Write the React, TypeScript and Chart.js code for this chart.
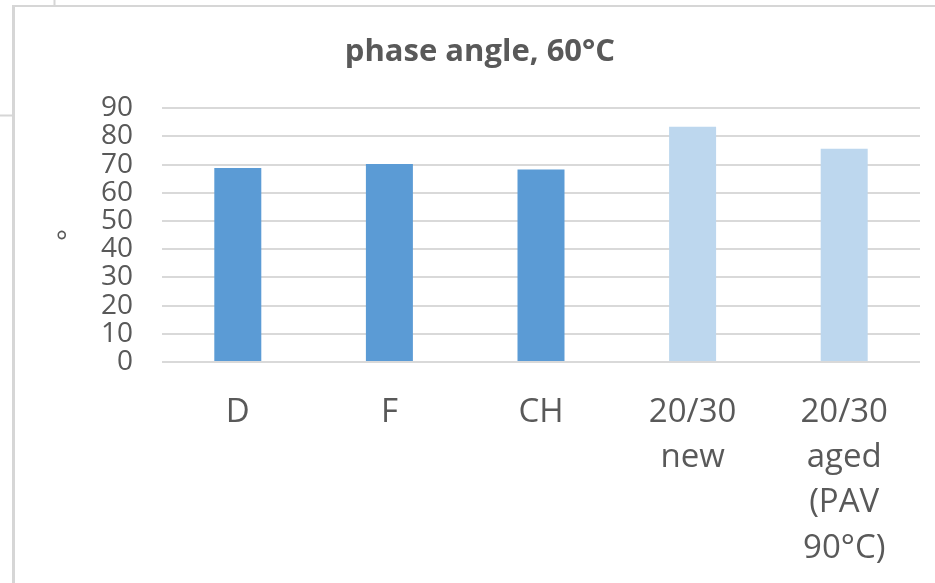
import React, { useEffect, useRef } from "react";
import { Chart, registerables } from "chart.js";

Chart.register(...registerables);

// Binder samples on the category axis (multi-line labels)
const categories: string[][] = [
  ["D"],
  ["F"],
  ["CH"],
  ["20/30", "new"],
  ["20/30", "aged", "(PAV", "90°C)"],
];

// Phase angle at 60 °C, in degrees
const phaseAngle: number[] = [68.8, 70.2, 68.3, 83.4, 75.6];

// Modified binders in a darker blue, the 20/30 reference binders in a pale blue
const barColors: string[] = ["#5B9BD5", "#5B9BD5", "#5B9BD5", "#BDD7EE", "#BDD7EE"];

const yTicks: number[] = [0, 10, 20, 30, 40, 50, 60, 70, 80, 90];

const TEXT = "#595959";
const GRID = "#D9D9D9";
const FONT = "'Open Sans', 'Noto Sans', sans-serif";

// Sheet cell borders and the chart frame behind the plot
const framePlugin = {
  id: "sheetFrame",
  beforeDraw(chart: Chart) {
    const { ctx, width, height } = chart;
    ctx.save();
    ctx.fillStyle = "#ffffff";
    ctx.fillRect(0, 0, width, height);
    ctx.strokeStyle = "#D6D6D6";
    ctx.lineWidth = 3;
    ctx.beginPath();
    ctx.moveTo(13.5, 5);
    ctx.lineTo(13.5, height);
    ctx.stroke();
    ctx.lineWidth = 2;
    ctx.beginPath();
    ctx.moveTo(12, 6);
    ctx.lineTo(width, 6);
    ctx.moveTo(54.5, 0);
    ctx.lineTo(54.5, 6);
    ctx.moveTo(0, 115.5);
    ctx.lineTo(13, 115.5);
    ctx.stroke();
    ctx.restore();
  },
};

export default function App() {
  const canvasRef = useRef<HTMLCanvasElement | null>(null);

  useEffect(() => {
    if (!canvasRef.current) return;
    const chart = new Chart(canvasRef.current, {
      type: "bar",
      data: {
        labels: categories,
        datasets: [
          {
            label: "phase angle",
            data: phaseAngle,
            backgroundColor: barColors,
            borderWidth: 0,
            categoryPercentage: 1,
            barPercentage: 0.31,
          },
        ],
      },
      options: {
        animation: false,
        responsive: false,
        maintainAspectRatio: false,
        layout: { padding: { top: 0, right: 15, bottom: 0, left: 40 } },
        plugins: {
          legend: { display: false },
          tooltip: { enabled: false },
          title: {
            display: true,
            text: "phase angle, 60°C",
            color: TEXT,
            font: { family: FONT, size: 31, weight: "bold", lineHeight: 1.2 },
            padding: { top: 34, bottom: 37 },
          },
        },
        scales: {
          x: {
            grid: { display: false, drawTicks: false },
            border: { display: false },
            ticks: {
              color: TEXT,
              font: { family: FONT, size: 33, lineHeight: 1.37 },
              padding: 28,
              maxRotation: 0,
              autoSkip: false,
            },
            afterFit(scale: any) {
              scale.height = 221;
            },
          },
          y: {
            min: 0,
            max: 90,
            afterBuildTicks(scale: any) {
              scale.ticks = yTicks.map((v) => ({ value: v }));
            },
            grid: { color: GRID, lineWidth: 2, drawTicks: false },
            border: { display: false },
            ticks: {
              color: TEXT,
              font: { family: FONT, size: 28, lineHeight: 1 },
              padding: 29,
              autoSkip: false,
            },
            title: {
              display: true,
              text: "°",
              color: TEXT,
              font: { family: FONT, size: 28 },
              padding: { top: 13, bottom: 0 },
            },
            afterFit(scale: any) {
              scale.width = 122;
            },
          },
        },
      },
      plugins: [framePlugin],
    });
    return () => chart.destroy();
  }, []);

  return (
    <div style={{ position: "absolute", left: 0, top: 0, width: 935, height: 583, background: "#fff" }}>
      <canvas ref={canvasRef} width={935} height={583} style={{ display: "block" }} />
    </div>
  );
}
